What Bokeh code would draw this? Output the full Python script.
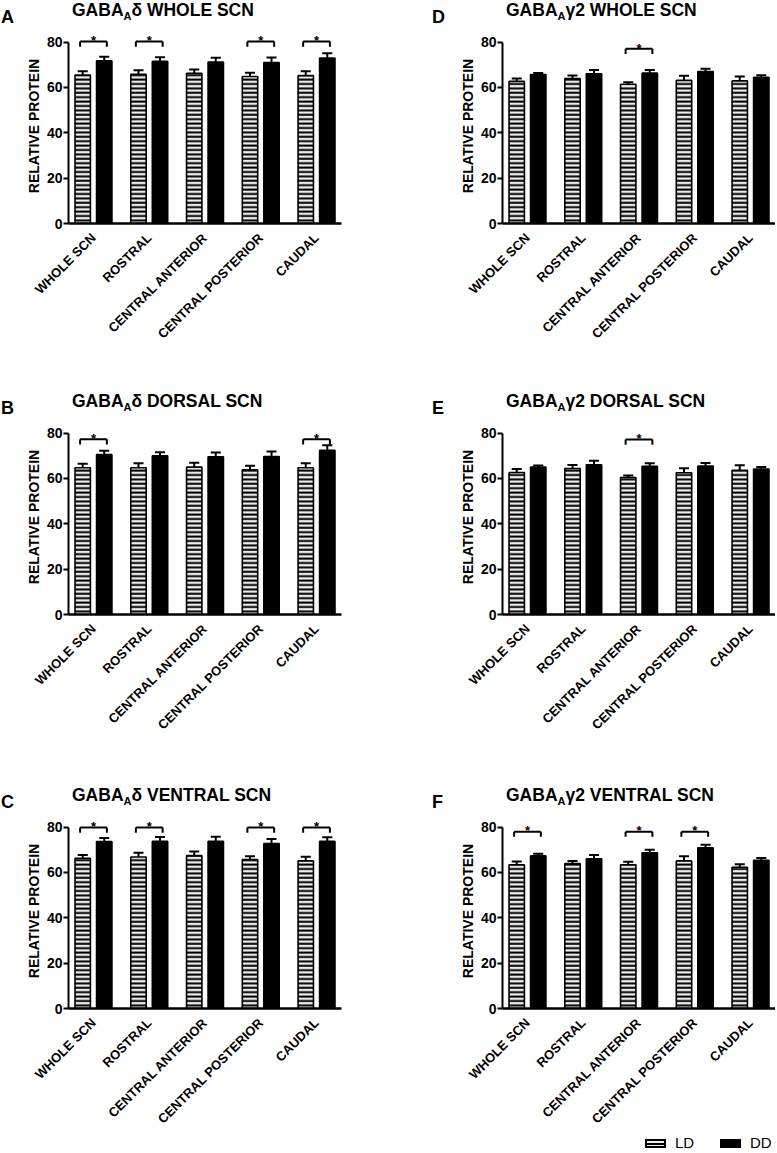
import math
from bokeh.plotting import figure
from bokeh.models import ColumnDataSource, FactorRange, Range1d, FixedTicker, Div
from bokeh.transform import dodge
from bokeh.layouts import column, row
from bokeh.core.properties import value
from bokeh.embed import file_html
from bokeh.resources import INLINE

# ---------------- data ----------------
CATEGORIES = ["WHOLE SCN", "ROSTRAL", "CENTRAL ANTERIOR", "CENTRAL POSTERIOR", "CAUDAL"]
SERIES = ["LD", "DD"]
Y_TICKS = [0, 20, 40, 60, 80]

# Panel A: GABAA delta, whole SCN
A_LD = [65.5, 65.8, 66.2, 64.8, 65.2]
A_LD_SEM = [1.7, 1.8, 1.7, 1.7, 1.9]
A_DD = [71.7, 71.5, 71.2, 71.0, 73.0]
A_DD_SEM = [1.8, 1.8, 1.9, 2.2, 2.1]
A_SIG = ["WHOLE SCN", "ROSTRAL", "CENTRAL POSTERIOR", "CAUDAL"]

# Panel B: GABAA delta, dorsal SCN
B_LD = [64.7, 64.7, 65.0, 63.8, 64.7]
B_LD_SEM = [1.8, 2.0, 1.9, 1.8, 2.0]
B_DD = [70.5, 70.0, 69.6, 69.7, 72.4]
B_DD_SEM = [1.7, 1.6, 1.9, 2.2, 2.2]
B_SIG = ["WHOLE SCN", "CAUDAL"]

# Panel C: GABAA delta, ventral SCN
C_LD = [66.2, 66.8, 67.4, 65.7, 65.1]
C_LD_SEM = [1.5, 1.9, 1.8, 1.5, 1.8]
C_DD = [73.6, 73.7, 73.7, 72.8, 73.7]
C_DD_SEM = [1.6, 1.9, 2.1, 1.9, 1.8]
C_SIG = ["WHOLE SCN", "ROSTRAL", "CENTRAL POSTERIOR", "CAUDAL"]

# Panel D: GABAA gamma2, whole SCN
D_LD = [62.7, 63.9, 61.4, 63.1, 62.9]
D_LD_SEM = [1.3, 1.4, 0.9, 2.1, 1.9]
D_DD = [65.7, 66.0, 66.3, 67.0, 64.5]
D_DD_SEM = [0.7, 1.7, 1.4, 1.3, 0.9]
D_SIG = ["CENTRAL ANTERIOR"]

# Panel E: GABAA gamma2, dorsal SCN
E_LD = [62.6, 64.4, 60.4, 62.5, 63.6]
E_LD_SEM = [1.6, 1.5, 0.9, 2.0, 2.2]
E_DD = [65.0, 66.0, 65.4, 65.5, 64.2]
E_DD_SEM = [0.7, 1.8, 1.3, 1.3, 0.9]
E_SIG = ["CENTRAL ANTERIOR"]

# Panel F: GABAA gamma2, ventral SCN
F_LD = [63.4, 63.9, 63.4, 65.1, 62.3]
F_LD_SEM = [1.4, 1.1, 1.3, 2.0, 1.3]
F_DD = [67.3, 66.0, 68.7, 70.9, 65.4]
F_DD_SEM = [0.9, 1.7, 1.3, 1.3, 1.0]
F_SIG = ["WHOLE SCN", "CENTRAL ANTERIOR", "CENTRAL POSTERIOR"]

# significance bracket level per panel (y units)
BRACKET_LEVEL = {"A": 80.3, "B": 77.3, "C": 79.8, "D": 77.1, "E": 77.2, "F": 78.0}

# ---------------- style ----------------
FONT = "Liberation Sans"
OFF = 0.193      # dodge of each bar from group centre
BW = 0.276       # bar width
CAP = 0.09       # half width of error-bar cap
BR = 0.24        # half width of significance bracket
LEG = 2.3        # bracket leg length
FRAME_W, FRAME_H = 273, 195
HEADER_H = 28
FOOTER_H = 16
Y_MAX = 86.0
LEFT_MB = (68, 112)
RIGHT_MB = (49, 0)
LETTER_DX = (-67, -70)
COL_W = tuple(LEFT_MB[i] + FRAME_W + RIGHT_MB[i] for i in range(2))
ROW_H = (391, 394, 366)

LD_STYLE = dict(fill_color="#ececec", line_color="black", line_width=1.6,
                hatch_pattern="-", hatch_color="black", hatch_scale=4.4, hatch_weight=2.0)
DD_STYLE = dict(fill_color="black", line_color="black", line_width=1.6)


def make_header(letter, subunit, region, col):
    mbl = LEFT_MB[col]
    w = COL_W[col]
    lx = mbl + LETTER_DX[col]
    tx = mbl + 4
    html = (
        f'<div style="position:relative;width:{w}px;height:{HEADER_H}px;'
        f'font-family:\'{FONT}\';font-weight:bold;color:black;overflow:visible;">'
        f'<span style="position:absolute;left:{lx}px;top:8px;font-size:18px;'
        f'line-height:18px;white-space:nowrap;">{letter}</span>'
        f'<span style="position:absolute;left:{tx}px;top:2px;font-size:17.5px;'
        f'line-height:17.5px;white-space:nowrap;">GABA<sub style="font-size:11px;'
        f'vertical-align:-3.5px;line-height:0;">A</sub>{subunit} {region}</span>'
        f'</div>')
    return Div(text=html, width=w, height=HEADER_H, margin=0)


def make_footer():
    w = COL_W[1]
    x0 = 255
    swatch = "position:absolute;top:4px;width:21px;height:9px;box-sizing:border-box;"
    ld_bg = ("background:repeating-linear-gradient(to bottom,#ececec 0px,#ececec 2px,"
             "black 2px,black 4px);border:2px solid black;")
    text = ("position:absolute;top:0px;font-size:15px;line-height:16px;"
            "white-space:nowrap;")
    html = (
        f'<div style="position:relative;width:{w}px;height:{FOOTER_H}px;'
        f'font-family:\'{FONT}\';color:black;">'
        f'<span style="{swatch}left:{x0}px;{ld_bg}"></span>'
        f'<span style="{text}left:{x0 + 30}px;">{SERIES[0]}</span>'
        f'<span style="{swatch}left:{x0 + 75}px;background:black;"></span>'
        f'<span style="{text}left:{x0 + 105}px;">{SERIES[1]}</span>'
        f'</div>')
    return Div(text=html, width=w, height=FOOTER_H, margin=0)


def make_panel(letter, ld, ld_sem, dd, dd_sem, sig, col, mb_bottom):
    xr = FactorRange(factors=CATEGORIES, range_padding=-0.052,
                     range_padding_units="absolute")
    p = figure(x_range=xr, y_range=Range1d(0, Y_MAX), frame_width=FRAME_W,
               frame_height=FRAME_H, min_border_left=LEFT_MB[col],
               min_border_right=RIGHT_MB[col], min_border_top=0,
               min_border_bottom=mb_bottom, output_backend="svg",
               toolbar_location=None, tools="", margin=0)
    p.outline_line_color = None
    p.xgrid.grid_line_color = None
    p.ygrid.grid_line_color = None

    src = ColumnDataSource(dict(
        cat=CATEGORIES, ld=ld, dd=dd,
        ld_top=[v + e for v, e in zip(ld, ld_sem)],
        dd_top=[v + e for v, e in zip(dd, dd_sem)],
    ))

    p.vbar(x=dodge("cat", -OFF, range=xr), top="ld", bottom=0, width=BW, source=src,
           **LD_STYLE)
    p.vbar(x=dodge("cat", OFF, range=xr), top="dd", bottom=0, width=BW, source=src,
           **DD_STYLE)

    for off, topcol, valcol in ((-OFF, "ld_top", "ld"), (OFF, "dd_top", "dd")):
        p.segment(x0=dodge("cat", off, range=xr), x1=dodge("cat", off, range=xr),
                  y0=valcol, y1=topcol, source=src, line_color="black", line_width=2)
        p.segment(x0=dodge("cat", off - CAP, range=xr), x1=dodge("cat", off + CAP, range=xr),
                  y0=topcol, y1=topcol, source=src, line_color="black", line_width=2)

    lvl = BRACKET_LEVEL[letter]
    ssrc = ColumnDataSource(dict(
        cat=sig, by=[lvl] * len(sig), leg=[lvl - LEG] * len(sig),
        sy=[lvl + 0.3] * len(sig), star=["*"] * len(sig)))
    p.segment(x0=dodge("cat", -BR, range=xr), x1=dodge("cat", BR, range=xr),
              y0="by", y1="by", source=ssrc, line_color="black", line_width=2)
    for off in (-BR, BR):
        p.segment(x0=dodge("cat", off, range=xr), x1=dodge("cat", off, range=xr),
                  y0="by", y1="leg", source=ssrc, line_color="black", line_width=2)
    p.text(x="cat", y="sy", text="star", source=ssrc, text_align="center",
           text_baseline="alphabetic", text_font=value(FONT), text_font_size="13px",
           text_font_style="bold", text_color="black")

    xa = p.xaxis[0]
    xa.major_label_orientation = math.pi / 4
    xa.major_tick_line_color = None
    xa.minor_tick_line_color = None
    xa.axis_line_width = 2.5
    xa.axis_line_color = "black"
    xa.major_label_text_font = FONT
    xa.major_label_text_font_size = "13px"
    xa.major_label_text_font_style = "bold"
    xa.major_label_text_color = "black"
    xa.major_label_standoff = 6

    ya = p.yaxis[0]
    ya.bounds = (0, 80)
    ya.ticker = FixedTicker(ticks=Y_TICKS)
    ya.axis_line_width = 2
    ya.axis_line_color = "black"
    ya.major_tick_line_width = 2
    ya.major_tick_line_color = "black"
    ya.major_tick_out = 5
    ya.major_tick_in = 0
    ya.minor_tick_line_color = None
    ya.major_label_text_font = FONT
    ya.major_label_text_font_size = "14px"
    ya.major_label_text_font_style = "bold"
    ya.major_label_text_color = "black"
    ya.major_label_standoff = 1
    ya.axis_label = "RELATIVE PROTEIN"
    ya.axis_label_text_font = FONT
    ya.axis_label_text_font_size = "14px"
    ya.axis_label_text_font_style = "bold"
    ya.axis_label_text_color = "black"
    ya.axis_label_standoff = 2
    return p


MB = tuple(h - HEADER_H - FRAME_H for h in ROW_H)
MB_LAST_RIGHT = MB[2] - FOOTER_H

left_col = column(
    make_header("A", "δ", "WHOLE SCN", 0),
    make_panel("A", A_LD, A_LD_SEM, A_DD, A_DD_SEM, A_SIG, 0, MB[0]),
    make_header("B", "δ", "DORSAL SCN", 0),
    make_panel("B", B_LD, B_LD_SEM, B_DD, B_DD_SEM, B_SIG, 0, MB[1]),
    make_header("C", "δ", "VENTRAL SCN", 0),
    make_panel("C", C_LD, C_LD_SEM, C_DD, C_DD_SEM, C_SIG, 0, MB[2]),
    spacing=0)
right_col = column(
    make_header("D", "γ2", "WHOLE SCN", 1),
    make_panel("D", D_LD, D_LD_SEM, D_DD, D_DD_SEM, D_SIG, 1, MB[0]),
    make_header("E", "γ2", "DORSAL SCN", 1),
    make_panel("E", E_LD, E_LD_SEM, E_DD, E_DD_SEM, E_SIG, 1, MB[1]),
    make_header("F", "γ2", "VENTRAL SCN", 1),
    make_panel("F", F_LD, F_LD_SEM, F_DD, F_DD_SEM, F_SIG, 1, MB_LAST_RIGHT),
    make_footer(),
    spacing=0)
layout = row(left_col, right_col, spacing=0)

open("out.html", "w").write(file_html(layout, INLINE))
